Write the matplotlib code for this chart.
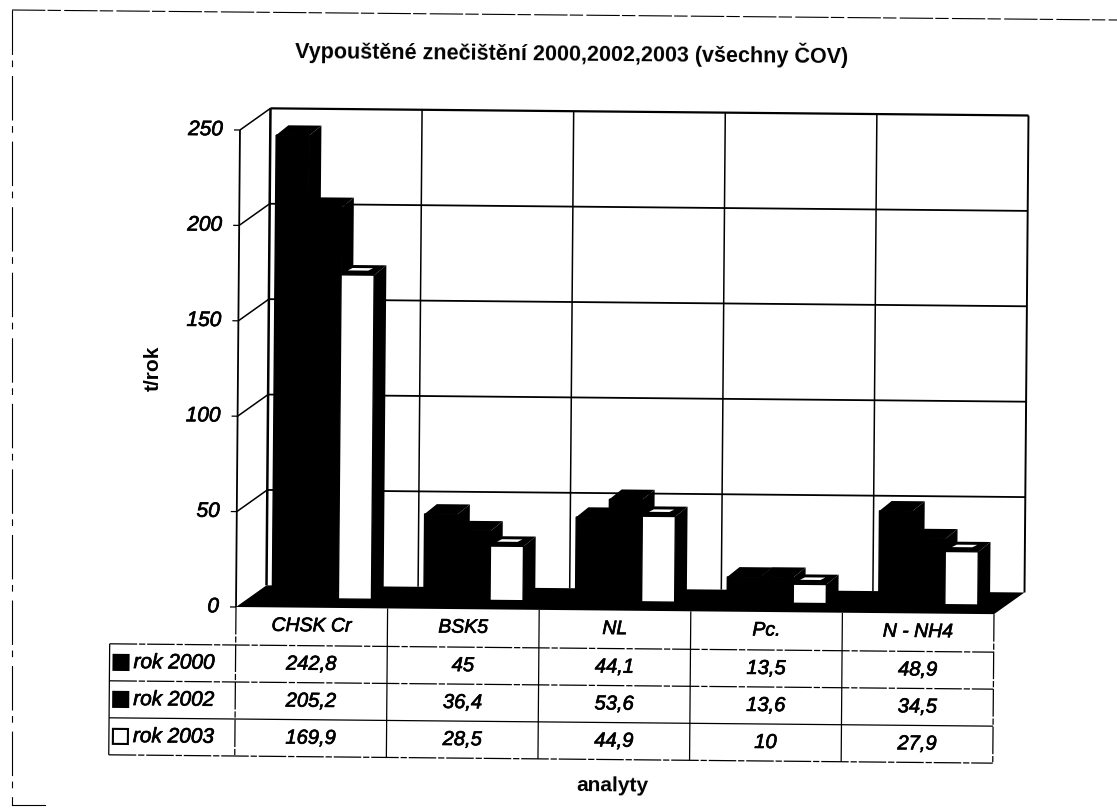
import matplotlib
matplotlib.use('Agg')
import matplotlib.pyplot as plt
import matplotlib.patheffects as pe
from matplotlib.transforms import Affine2D

plt.rcParams['font.family'] = ['Liberation Sans', 'DejaVu Sans']

categories = ['CHSK Cr', 'BSK5', 'NL', 'Pc.', 'N - NH4']
years = ['rok 2000', 'rok 2002', 'rok 2003']
rok_2000 = [242.8, 45, 44.1, 13.5, 48.9]
rok_2002 = [205.2, 36.4, 53.6, 13.6, 34.5]
rok_2003 = [169.9, 28.5, 44.9, 10, 27.9]
y_ticks = [0, 50, 100, 150, 200, 250]
bar_colors = ['black', 'black', 'white']

# pixel layout of the scan
W, H = 1117, 809
X0, Y0 = 236.0, 607.0     # front corner of the floor
CAT_W = 151.6             # px per category
VAL_H = 1.908             # px per t/rok


def cx(px):
    return (px - X0) / CAT_W


def vy(py):
    return (Y0 - py) / VAL_H


fig = plt.figure(figsize=(W / 100, H / 100), dpi=100)
ax = fig.add_axes([0, 0, 1, 1])
ax.set_xlim(cx(0), cx(W))
ax.set_ylim(vy(H), vy(0))
ax.axis('off')

# the page was scanned slightly rotated
tilt = Affine2D.from_values(1, -0.75, 0.000105, 1, 0, 0) + ax.transData
ROT = -0.53
# scanned text comes out heavier than the plain italic
heavy = [pe.withStroke(linewidth=0.5, foreground='black')]

WALL_DX, WALL_DY = 0.2, 11.5
BAR_DX, BAR_DY = 0.08, 5.2
OFF_X, OFF_Y = 0.066, 4.7
BAR_W = 0.218
GAP = (1 - 3 * BAR_W) / 2
n = len(categories)


def line(xs, ys, lw=1.0, ls='-', zorder=2):
    ax.plot(xs, ys, color='black', lw=lw, ls=ls, transform=tilt, zorder=zorder,
            solid_capstyle='butt', dash_capstyle='butt')


def poly(xs, ys, color='black', zorder=3):
    ax.fill(xs, ys, color=color, lw=0, transform=tilt, zorder=zorder)


def itext(x, y, s, size, ha='center'):
    ax.text(x, y, s, transform=tilt, ha=ha, va='center', fontsize=size, style='italic',
            rotation=ROT, rotation_mode='anchor', path_effects=heavy)


# walls
top = y_ticks[-1]
line([0, 0], [0, top], lw=1.3)
line([WALL_DX, WALL_DX], [WALL_DY, top + WALL_DY], lw=1.8)
line([n + WALL_DX, n + WALL_DX], [WALL_DY, top + WALL_DY], lw=1.4)
line([WALL_DX, n + WALL_DX], [top + WALL_DY, top + WALL_DY], lw=1.6)
for t in y_ticks[1:-1]:
    line([WALL_DX, n + WALL_DX], [t + WALL_DY, t + WALL_DY], lw=1.3)
for t in y_ticks[1:]:
    line([0, WALL_DX], [t, t + WALL_DY], lw=1.1)
for i in range(1, n):
    line([i + WALL_DX, i + WALL_DX], [WALL_DY, top + WALL_DY], lw=1.1)
for t in y_ticks:
    line([cx(230), 0], [t, t], lw=0.9)
    itext(cx(219), t, str(t), 15, ha='right')

# floor
poly([0, n, n + WALL_DX, WALL_DX], [0, 0, WALL_DY, WALL_DY], zorder=2.5)

# bars
for j, values in enumerate([rok_2000, rok_2002, rok_2003]):
    for i, v in enumerate(values):
        x = i + GAP + OFF_X + j * BAR_W
        y1 = OFF_Y + v
        poly([x + BAR_W, x + BAR_W + BAR_DX, x + BAR_W + BAR_DX, x + BAR_W],
             [OFF_Y, OFF_Y + BAR_DY, y1 + BAR_DY, y1])
        poly([x, x + BAR_W, x + BAR_W + BAR_DX, x + BAR_DX], [y1, y1, y1 + BAR_DY, y1 + BAR_DY])
        ax.bar(x, v, BAR_W, bottom=OFF_Y, align='edge', color=bar_colors[j], edgecolor='black',
               lw=1.0, transform=tilt, zorder=4)
        if bar_colors[j] == 'white':
            # thin light sliver inside the black top face
            sx = x + BAR_W * 0.2
            sw = BAR_W * 0.62
            poly([sx, sx + sw, sx + sw + BAR_DX * 0.4, sx + BAR_DX * 0.4],
                 [y1 + BAR_DY * 0.45, y1 + BAR_DY * 0.45, y1 + BAR_DY * 0.7, y1 + BAR_DY * 0.7],
                 color='white', zorder=5)

# data table
row_px = [645, 682, 719, 756]
row_y = [vy(p) for p in row_px]
left = cx(110)
broken = (0, (22, 1.5, 5, 1.5))
for k, y in enumerate(row_y):
    line([left, n], [y, y], lw=0.9, ls=broken if k != 2 else '-')
line([left, left], [row_y[0], row_y[-1]], lw=0.9)
for i in range(n + 1):
    line([i, i], [0, row_y[-1]], lw=0.9, ls=broken if i in (0, 5) else '-')
for i, c in enumerate(categories):
    itext(i + 0.5, row_y[0] / 2, c, 14)
for r, (name, values) in enumerate(zip(years, [rok_2000, rok_2002, rok_2003])):
    ymid = (row_y[r] + row_y[r + 1]) / 2
    itext(cx(134), ymid, name, 15, ha='left')
    ax.bar(cx(114), 15 / VAL_H, 15 / CAT_W, bottom=ymid - 7.5 / VAL_H, align='edge',
           color=bar_colors[r], edgecolor='black', lw=1.5, transform=tilt, zorder=4)
    for i, v in enumerate(values):
        itext(i + 0.5, ymid, f'{v:g}'.replace('.', ','), 14.5)

# page frame, broken up by the scan
ax.plot([cx(12), cx(1117)], [vy(10), vy(20)], color='black', lw=0.8, ls=(0, (30, 2, 12, 3)))
ax.plot([cx(12), cx(12)], [vy(10), vy(805)], color='black', lw=0.8, ls=(0, (40, 5, 6, 8)))
ax.plot([cx(12), cx(45)], [vy(805), vy(805)], color='black', lw=0.8)

# titles
ax.text(cx(572), vy(53), 'Vypouštěné znečištění 2000,2002,2003 (všechny ČOV)', ha='center', va='center',
        fontsize=15.5, fontweight='bold', rotation=ROT, rotation_mode='anchor')
ax.text(cx(153), vy(368), 't/rok', ha='center', va='center', fontsize=15, fontweight='bold', rotation=90)
ax.text(cx(612), vy(786), 'analyty', ha='center', va='center', fontsize=15, fontweight='bold',
        rotation=ROT, rotation_mode='anchor')

fig.savefig('out.png', dpi=100)
